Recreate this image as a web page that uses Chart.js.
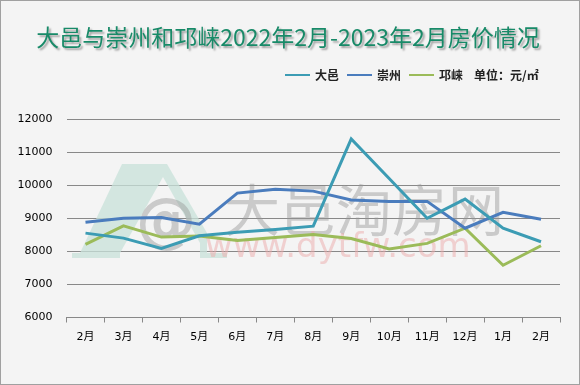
<!DOCTYPE html>
<html lang="zh">
<head>
    <meta charset="UTF-8">
    <title>大邑与崇州和邛崃房价情况</title>
    <script src="https://cdn.jsdelivr.net/npm/chart.js"></script>
    <style>
        body {
            margin: 0;
            background: #f4f4f4;
        }
        .wrap {
            position: relative;
            width: 580px;
            height: 385px;
            background: #f4f4f4;
            overflow: hidden;
        }
        .frame {
            position: absolute;
            left: 0; top: 0; right: 0; bottom: 0;
            border: 1px solid #a0a0a0;
            pointer-events: none;
        }
        .title {
            position: absolute;
            left: 0;
            width: 576px;
            top: 19px;
            text-align: center;
            font-family: "Noto Sans CJK SC", sans-serif;
            font-size: 23px;
            font-weight: 400;
            color: #188a68;
            text-shadow: 2px 2px 2px rgba(0, 0, 0, 0.35);
            white-space: nowrap;
        }
        canvas {
            position: absolute;
            left: 0;
            top: 0;
        }
    </style>
</head>
<body>

<div class="wrap">
    <canvas id="priceChart" width="580" height="385"></canvas>
    <div class="title">大邑与崇州和邛崃2022年2月-2023年2月房价情况</div>
    <div class="frame"></div>
</div>

<script>
    const months = ["2月", "3月", "4月", "5月", "6月", "7月", "8月", "9月", "10月", "11月", "12月", "1月", "2月"];
    const dayi = [8550, 8400, 8090, 8470, 8580, 8660, 8760, 11400, 10200, 9000, 9580, 8700, 8290];
    const chongzhou = [8880, 9000, 9020, 8820, 9760, 9880, 9820, 9550, 9510, 9510, 8700, 9180, 8970];
    const qionglai = [8210, 8770, 8430, 8460, 8330, 8420, 8510, 8390, 8070, 8240, 8700, 7580, 8170];
    const seriesNames = ["大邑", "崇州", "邛崃"];
    const seriesColors = ["#3c9cb4", "#4a7cbd", "#9bbb59"];
    const unitText = "单位：元/㎡";

    const cjk = "'Noto Sans CJK SC', sans-serif";

    // faint site watermark behind the lines
    const watermark = {
        id: "watermark",
        beforeDatasetsDraw(chart) {
            const ctx = chart.ctx;
            ctx.save();
            ctx.fillStyle = "rgba(200, 226, 217, 0.75)";
            const house = [[72, 258], [72, 253], [80, 253], [122, 164], [167, 164], [207, 233], [207, 253],
                [227, 253], [227, 258], [200, 258], [200, 243], [163, 177], [120, 253], [120, 258]];
            ctx.beginPath();
            house.forEach((p, i) => i ? ctx.lineTo(p[0], p[1]) : ctx.moveTo(p[0], p[1]));
            ctx.closePath();
            ctx.fill();

            ctx.fillStyle = "rgba(150, 150, 150, 0.45)";
            ctx.font = "bold 60px 'DejaVu Sans'";
            ctx.textAlign = "center";
            ctx.textBaseline = "middle";
            ctx.fillText("@", 166, 224);

            ctx.font = "56px " + cjk;
            ctx.textAlign = "left";
            ctx.fillStyle = "rgba(150, 150, 150, 0.45)";
            ctx.fillText("大邑淘房网", 224, 210);

            ctx.font = "34px 'DejaVu Sans'";
            ctx.fillStyle = "rgba(236, 170, 170, 0.5)";
            ctx.fillText("www.dytfw.com", 205, 248);
            ctx.restore();
        }
    };

    const legendRow = {
        id: "legendRow",
        afterDraw(chart) {
            const ctx = chart.ctx;
            ctx.save();
            ctx.font = "bold 12px " + cjk;
            ctx.textBaseline = "middle";
            ctx.fillStyle = "#222";
            let x = 285;
            const y = 75;
            chart.data.datasets.forEach(ds => {
                ctx.strokeStyle = ds.borderColor;
                ctx.lineWidth = 2;
                ctx.beginPath();
                ctx.moveTo(x, y);
                ctx.lineTo(x + 25, y);
                ctx.stroke();
                ctx.fillText(ds.label, x + 30, y);
                x += 30 + ctx.measureText(ds.label).width + 8;
            });
            ctx.fillText(unitText, x + 3, y);
            ctx.restore();
        }
    };

    const lines = [dayi, chongzhou, qionglai].map((values, i) => ({
        label: seriesNames[i],
        data: values,
        borderColor: seriesColors[i],
        backgroundColor: seriesColors[i],
        borderWidth: 3,
        pointRadius: 0,
        tension: 0,
        fill: false
    }));

    new Chart(document.getElementById("priceChart"), {
        type: "line",
        data: { labels: months, datasets: lines },
        plugins: [watermark, legendRow],
        options: {
            responsive: false,
            animation: false,
            layout: { padding: { left: 0, top: 119, right: 20, bottom: 0 } },
            plugins: {
                legend: { display: false },
                tooltip: { enabled: false }
            },
            scales: {
                x: {
                    offset: true,
                    grid: {
                        offset: true,
                        drawOnChartArea: false,
                        color: "#888",
                        tickLength: 5
                    },
                    border: { color: "#888" },
                    ticks: {
                        color: "#000",
                        padding: 8,
                        maxRotation: 0,
                        autoSkip: false,
                        font: { family: "'DejaVu Sans', " + cjk, size: 11 }
                    },
                    afterFit(scale) { scale.height = 67.5; }
                },
                y: {
                    min: 6000,
                    max: 12000,
                    grid: { color: "#888", drawTicks: false },
                    border: { display: false },
                    ticks: {
                        stepSize: 1000,
                        color: "#000",
                        padding: 14,
                        font: { family: "'DejaVu Sans'", size: 11 },
                        callback: v => String(v)
                    },
                    afterFit(scale) { scale.width = 66.5; }
                }
            }
        }
    });
</script>

</body>
</html>
